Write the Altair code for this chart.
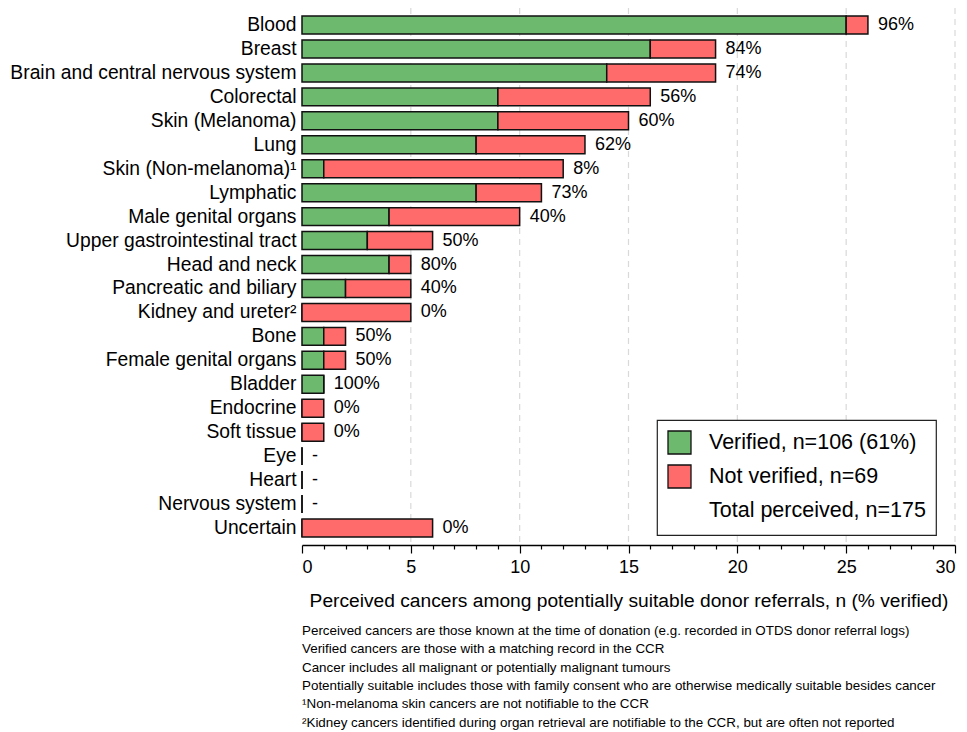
import altair as alt
import pandas as pd

categories = ["Blood", "Breast", "Brain and central nervous system", "Colorectal",
              "Skin (Melanoma)", "Lung", "Skin (Non-melanoma)\u00b9", "Lymphatic",
              "Male genital organs", "Upper gastrointestinal tract", "Head and neck",
              "Pancreatic and biliary", "Kidney and ureter\u00b2", "Bone",
              "Female genital organs", "Bladder", "Endocrine", "Soft tissue", "Eye",
              "Heart", "Nervous system", "Uncertain"]
verified = [25, 16, 14, 9, 9, 8, 1, 8, 4, 3, 4, 2, 0, 1, 1, 1, 0, 0, 0, 0, 0, 0]
not_verified = [1, 3, 5, 7, 6, 5, 11, 3, 6, 3, 1, 3, 5, 1, 1, 0, 1, 1, 0, 0, 0, 6]
pct_labels = ["96%", "84%", "74%", "56%", "60%", "62%", "8%", "73%", "40%", "50%",
              "80%", "40%", "0%", "50%", "50%", "100%", "0%", "0%", "-", "-", "-", "0%"]
series_names = ["Verified, n=106 (61%)", "Not verified, n=69", "Total perceived, n=175"]
series_fill = ["#6dba6e", "#ff6b6b", "rgba(0,0,0,0)"]
series_stroke = ["#111111", "#111111", "rgba(0,0,0,0)"]
grid_values = [5, 10, 15, 20, 25, 30]
footnotes = [
    "Perceived cancers are those known at the time of donation (e.g. recorded in OTDS donor referral logs)",
    "Verified cancers are those with a matching record in the CCR",
    "Cancer includes all malignant or potentially malignant tumours",
    "Potentially suitable includes those with family consent who are otherwise medically suitable besides cancer",
    "\u00b9Non-melanoma skin cancers are not notifiable to the CCR",
    "\u00b2Kidney cancers identified during organ retrieval are notifiable to the CCR, but are often not reported",
]
x_title = "Perceived cancers among potentially suitable donor referrals, n (% verified)"

FONT = "Liberation Sans"

rows = []
for c, v, nv in zip(categories, verified, not_verified):
    rows.append({"category": c, "series": series_names[0], "value": v, "ord": 0})
    rows.append({"category": c, "series": series_names[1], "value": nv, "ord": 1})
bars_df = pd.DataFrame(rows)

labels_df = pd.DataFrame({
    "category": categories,
    "total": [v + nv for v, nv in zip(verified, not_verified)],
    "label": pct_labels,
})
grid_df = pd.DataFrame({"g": grid_values})

xscale = alt.Scale(domain=[0, 30], nice=False, zero=True)
yscale = alt.Scale(domain=categories, paddingInner=0.25, paddingOuter=0.335)

x_axis = alt.Axis(
    values=list(range(31)),
    labelExpr="datum.value % 5 === 0 ? datum.label : ''",
    tickSize={"condition": {"test": "datum.value % 5 === 0", "value": 8}, "value": 4},
    grid=False, domainColor="black", domainWidth=1.5, tickColor="black", tickWidth=1.2,
    labelFontSize=18, labelPadding=5, labelColor="black", labelFont=FONT,
    title=x_title, titleFontSize=19.2, titleFontWeight="normal", titleColor="black",
    titleFont=FONT, titlePadding=15,
)
y_axis = alt.Axis(title=None, domain=False, ticks=False, labelFontSize=19.3,
                  labelPadding=6, labelColor="black", labelFont=FONT, labelLimit=400)

grid = alt.Chart(grid_df).mark_rule(strokeDash=[6, 5], color="#d9d9d9", strokeWidth=1.2).encode(
    x=alt.X("g:Q", scale=xscale, axis=x_axis)
)

bars = alt.Chart(bars_df).mark_bar(strokeWidth=1.5).encode(
    x=alt.X("value:Q", stack="zero", scale=xscale, axis=x_axis),
    y=alt.Y("category:N", scale=yscale, axis=y_axis, sort=categories),
    fill=alt.Fill("series:N", scale=alt.Scale(domain=series_names, range=series_fill),
                  legend=alt.Legend(title=None)),
    stroke=alt.Stroke("series:N", scale=alt.Scale(domain=series_names, range=series_stroke),
                      legend=alt.Legend(title=None)),
    order=alt.Order("ord:Q"),
)

text = alt.Chart(labels_df).mark_text(align="left", baseline="middle", dx=10,
                                      fontSize=18, font=FONT, color="black").encode(
    x=alt.X("total:Q", scale=xscale, axis=x_axis),
    y=alt.Y("category:N", scale=yscale, axis=y_axis, sort=categories),
    text="label:N",
)

chart = alt.layer(grid, bars, text).properties(
    width=653, height=537,
    autosize=alt.AutoSizeParams(type="none"),
    padding={"left": 302, "top": 8, "right": 12, "bottom": 187},
    title=alt.TitleParams(text=footnotes, orient="bottom", anchor="start", frame="group",
                          fontSize=13.4, fontWeight="normal", lineHeight=18.3,
                          color="black", font=FONT, offset=14),
).configure_view(stroke=None).configure_legend(
    orient="none", legendX=355, legendY=412, strokeColor="#222222", strokeWidth=1.2,
    fillColor="white", padding=10, symbolType="square", symbolSize=529,
    symbolStrokeWidth=1.3, labelFontSize=21.5, labelFont=FONT, labelColor="black",
    rowPadding=5, labelOffset=17, cornerRadius=0, labelLimit=400,
).configure_axis(labelFont=FONT, titleFont=FONT)

chart.save("out.html", embed_options={"renderer": "svg", "actions": False})
